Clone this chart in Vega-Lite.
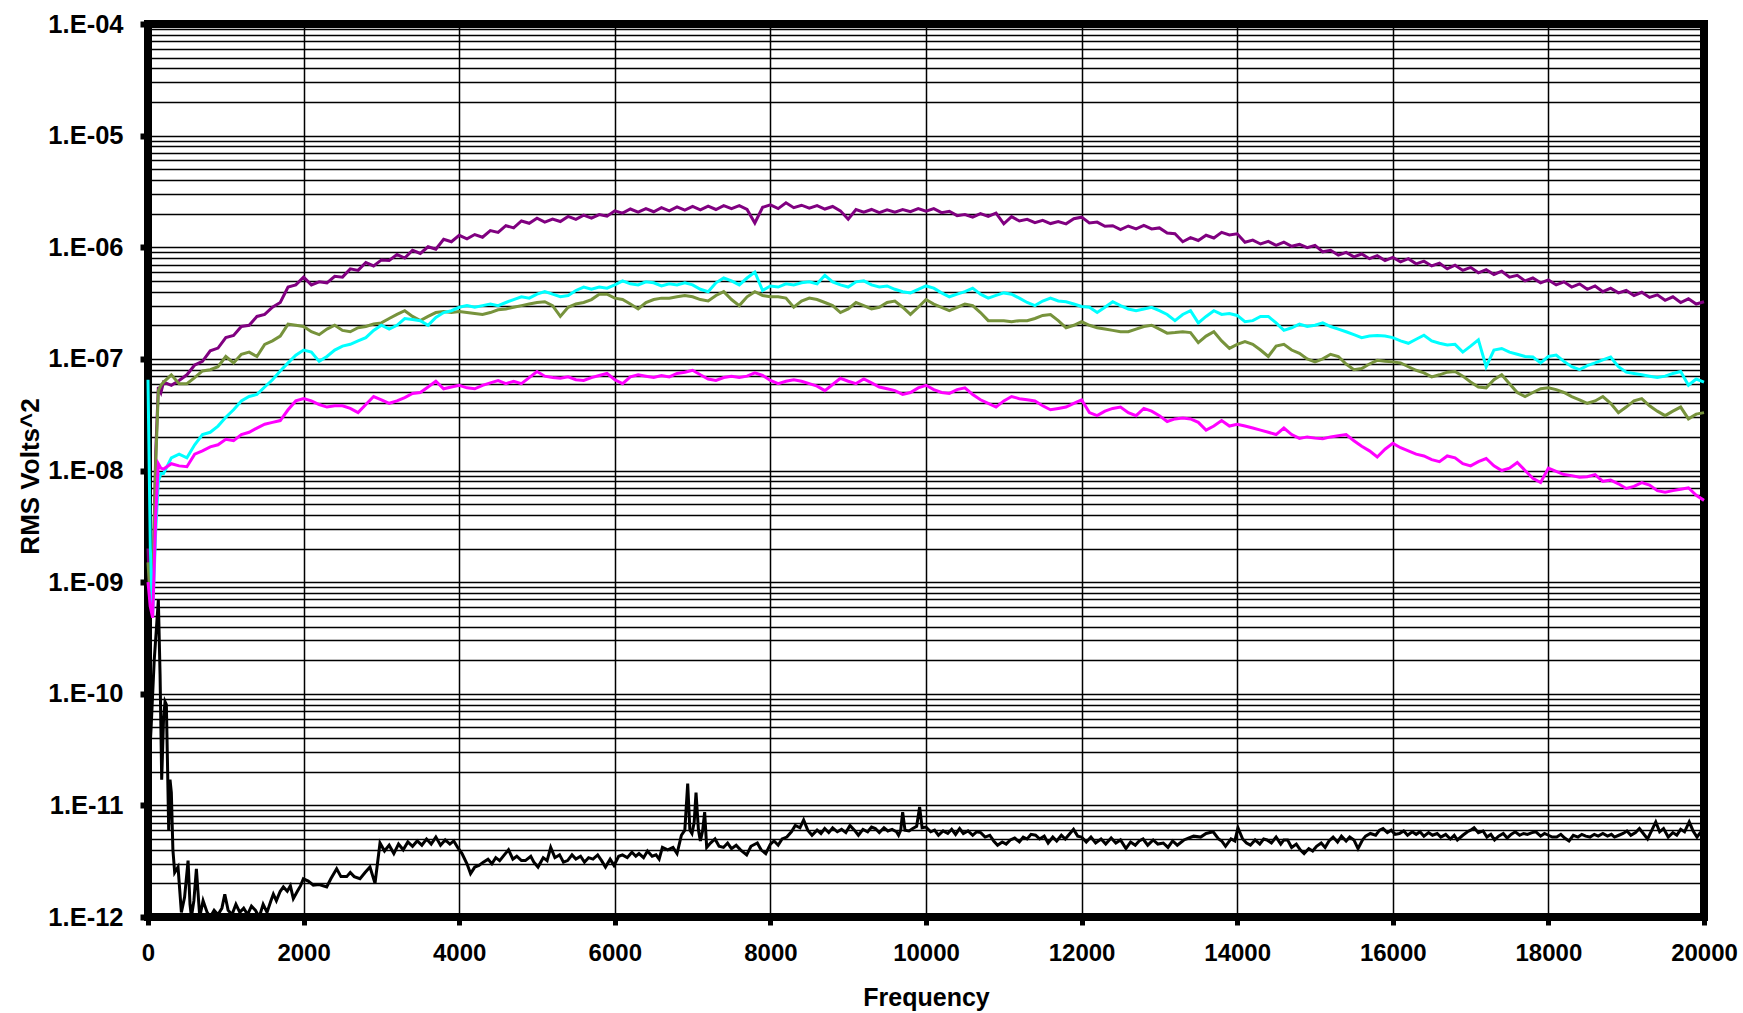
{
"$schema": "https://vega.github.io/schema/vega-lite/v6.json",
"autosize": {"type": "none"},
"width": 1556,
"height": 893,
"padding": {"left": 148, "top": 24, "right": 39, "bottom": 96},
"background": "white",
"config": {"view": {"stroke": "#000", "strokeWidth": 8}},
"datasets": {
"k": [
{"f":0,"v":1.5e-11},{"f":40,"v":5e-11},{"f":80,"v":2e-10},{"f":110,"v":4e-10},{"f":133,"v":6.9e-10},{"f":155,"v":1.5e-10},{"f":176,"v":1.7e-11},{"f":200,"v":6e-11},{"f":219,"v":8.5e-11},{"f":236,"v":8e-11},{"f":250,"v":2.5e-11},{"f":266,"v":6e-12},{"f":283,"v":1.7e-11},{"f":300,"v":1.3e-11},{"f":320,"v":4e-12},{"f":343,"v":2.5e-12},{"f":386,"v":2.8e-12},{"f":429,"v":1.1e-12},{"f":470,"v":1.5e-12},{"f":515,"v":3.2e-12},{"f":540,"v":1.3e-12},{"f":558,"v":1.0e-12},{"f":590,"v":1.4e-12},{"f":622,"v":2.7e-12},{"f":665,"v":1.0e-12},{"f":708,"v":1.4e-12},{"f":760,"v":1.1e-12},{"f":800,"v":1.0e-12},{"f":850,"v":1.15e-12},{"f":900,"v":1.05e-12},{"f":950,"v":1.2e-12},{"f":987,"v":1.6e-12},{"f":1030,"v":1.15e-12},{"f":1080,"v":1.05e-12},{"f":1130,"v":1.3e-12},{"f":1180,"v":1.1e-12},{"f":1230,"v":1.2e-12},{"f":1280,"v":1.05e-12},{"f":1330,"v":1.25e-12},{"f":1380,"v":1.15e-12},{"f":1430,"v":1.0e-12},{"f":1480,"v":1.3e-12},{"f":1530,"v":1.1e-12},{"f":1580,"v":1.4e-12},{"f":1611,"v":1.6e-12},{"f":1650,"v":1.4e-12},{"f":1700,"v":1.7e-12},{"f":1740,"v":1.86e-12},{"f":1790,"v":1.7e-12},{"f":1830,"v":1.9e-12},{"f":1868,"v":1.46e-12},{"f":1920,"v":1.7e-12},{"f":1960,"v":1.9e-12},{"f":1997,"v":2.2e-12},{"f":2060,"v":2.1e-12},{"f":2125,"v":1.93e-12},{"f":2200,"v":1.95e-12},{"f":2297,"v":1.86e-12},{"f":2350,"v":2.2e-12},{"f":2425,"v":2.7e-12},{"f":2480,"v":2.3e-12},{"f":2554,"v":2.3e-12},{"f":2600,"v":2.5e-12},{"f":2650,"v":2.3e-12},{"f":2725,"v":2.2e-12},{"f":2790,"v":2.5e-12},{"f":2853,"v":2.8e-12},{"f":2918,"v":2.0e-12},{"f":2982,"v":4.6e-12},{"f":3040,"v":3.9e-12},{"f":3100,"v":4.4e-12},{"f":3160,"v":3.7e-12},{"f":3220,"v":4.5e-12},{"f":3280,"v":4.0e-12},{"f":3340,"v":4.7e-12},{"f":3400,"v":4.3e-12},{"f":3460,"v":4.8e-12},{"f":3520,"v":4.4e-12},{"f":3580,"v":5.0e-12},{"f":3640,"v":4.5e-12},{"f":3700,"v":5.2e-12},{"f":3760,"v":4.4e-12},{"f":3820,"v":4.9e-12},{"f":3880,"v":4.5e-12},{"f":3930,"v":4.8e-12},{"f":3980,"v":4.2e-12},{"f":4036,"v":3.7e-12},{"f":4100,"v":3.0e-12},{"f":4146,"v":2.45e-12},{"f":4200,"v":2.8e-12},{"f":4254,"v":2.9e-12},{"f":4310,"v":3.1e-12},{"f":4370,"v":3.3e-12},{"f":4420,"v":3.0e-12},{"f":4470,"v":3.4e-12},{"f":4520,"v":3.2e-12},{"f":4580,"v":3.6e-12},{"f":4634,"v":4.0e-12},{"f":4690,"v":3.3e-12},{"f":4740,"v":3.5e-12},{"f":4800,"v":3.2e-12},{"f":4851,"v":3.2e-12},{"f":4920,"v":3.5e-12},{"f":4960,"v":3.1e-12},{"f":5013,"v":2.8e-12},{"f":5080,"v":3.4e-12},{"f":5130,"v":3.2e-12},{"f":5176,"v":4.2e-12},{"f":5230,"v":3.4e-12},{"f":5290,"v":3.6e-12},{"f":5340,"v":3.1e-12},{"f":5393,"v":3.2e-12},{"f":5450,"v":3.6e-12},{"f":5500,"v":3.3e-12},{"f":5560,"v":3.5e-12},{"f":5610,"v":3.1e-12},{"f":5663,"v":3.4e-12},{"f":5720,"v":3.3e-12},{"f":5780,"v":3.6e-12},{"f":5830,"v":3.2e-12},{"f":5880,"v":2.8e-12},{"f":5940,"v":3.3e-12},{"f":5990,"v":2.9e-12},{"f":6050,"v":3.5e-12},{"f":6098,"v":3.6e-12},{"f":6160,"v":3.4e-12},{"f":6220,"v":3.8e-12},{"f":6270,"v":3.5e-12},{"f":6311,"v":3.7e-12},{"f":6370,"v":3.4e-12},{"f":6420,"v":3.9e-12},{"f":6480,"v":3.5e-12},{"f":6530,"v":3.6e-12},{"f":6570,"v":3.3e-12},{"f":6612,"v":4.2e-12},{"f":6680,"v":4.0e-12},{"f":6748,"v":4.2e-12},{"f":6800,"v":3.7e-12},{"f":6856,"v":5.4e-12},{"f":6900,"v":6e-12},{"f":6937,"v":1.57e-11},{"f":6965,"v":6e-12},{"f":6992,"v":5.6e-12},{"f":7020,"v":7e-12},{"f":7044,"v":1.3e-11},{"f":7075,"v":6e-12},{"f":7100,"v":4.8e-12},{"f":7130,"v":6e-12},{"f":7155,"v":8.7e-12},{"f":7181,"v":4.2e-12},{"f":7230,"v":4.6e-12},{"f":7288,"v":5.0e-12},{"f":7340,"v":4.3e-12},{"f":7397,"v":4.2e-12},{"f":7450,"v":4.6e-12},{"f":7500,"v":4.1e-12},{"f":7560,"v":4.4e-12},{"f":7615,"v":4.0e-12},{"f":7695,"v":3.6e-12},{"f":7750,"v":4.3e-12},{"f":7832,"v":4.6e-12},{"f":7880,"v":4.0e-12},{"f":7940,"v":3.7e-12},{"f":8000,"v":4.5e-12},{"f":8047,"v":4.8e-12},{"f":8100,"v":4.4e-12},{"f":8150,"v":5.0e-12},{"f":8211,"v":5.2e-12},{"f":8270,"v":5.8e-12},{"f":8320,"v":6.6e-12},{"f":8380,"v":6.3e-12},{"f":8427,"v":7.4e-12},{"f":8480,"v":6.0e-12},{"f":8535,"v":5.4e-12},{"f":8600,"v":6.0e-12},{"f":8650,"v":5.6e-12},{"f":8698,"v":6.2e-12},{"f":8750,"v":5.7e-12},{"f":8800,"v":6.3e-12},{"f":8860,"v":5.8e-12},{"f":8915,"v":6.1e-12},{"f":8970,"v":5.7e-12},{"f":9023,"v":6.6e-12},{"f":9080,"v":6.0e-12},{"f":9131,"v":5.4e-12},{"f":9190,"v":6.1e-12},{"f":9250,"v":5.8e-12},{"f":9300,"v":6.4e-12},{"f":9349,"v":6.2e-12},{"f":9400,"v":5.7e-12},{"f":9460,"v":6.3e-12},{"f":9510,"v":5.9e-12},{"f":9564,"v":6.1e-12},{"f":9620,"v":5.8e-12},{"f":9647,"v":5.4e-12},{"f":9675,"v":6e-12},{"f":9700,"v":8.7e-12},{"f":9730,"v":6e-12},{"f":9782,"v":5.9e-12},{"f":9830,"v":6.2e-12},{"f":9880,"v":6.5e-12},{"f":9918,"v":9.7e-12},{"f":9950,"v":6.3e-12},{"f":10000,"v":6.4e-12},{"f":10060,"v":5.8e-12},{"f":10110,"v":6.0e-12},{"f":10160,"v":5.4e-12},{"f":10220,"v":5.9e-12},{"f":10280,"v":5.6e-12},{"f":10330,"v":6.1e-12},{"f":10380,"v":5.5e-12},{"f":10432,"v":6.2e-12},{"f":10480,"v":5.6e-12},{"f":10540,"v":5.9e-12},{"f":10600,"v":5.4e-12},{"f":10650,"v":5.8e-12},{"f":10703,"v":5.7e-12},{"f":10760,"v":5.2e-12},{"f":10820,"v":5.4e-12},{"f":10870,"v":4.8e-12},{"f":10920,"v":4.4e-12},{"f":10980,"v":4.7e-12},{"f":11030,"v":4.5e-12},{"f":11083,"v":4.9e-12},{"f":11140,"v":5.1e-12},{"f":11200,"v":4.7e-12},{"f":11250,"v":5.2e-12},{"f":11300,"v":5.0e-12},{"f":11350,"v":5.5e-12},{"f":11408,"v":5.4e-12},{"f":11460,"v":5.0e-12},{"f":11520,"v":5.3e-12},{"f":11570,"v":4.6e-12},{"f":11630,"v":5.2e-12},{"f":11680,"v":4.8e-12},{"f":11740,"v":5.4e-12},{"f":11790,"v":5.0e-12},{"f":11850,"v":5.6e-12},{"f":11896,"v":6.1e-12},{"f":11950,"v":5.3e-12},{"f":12000,"v":5.2e-12},{"f":12060,"v":4.7e-12},{"f":12120,"v":5.2e-12},{"f":12180,"v":4.6e-12},{"f":12250,"v":5.0e-12},{"f":12310,"v":4.5e-12},{"f":12380,"v":5.1e-12},{"f":12440,"v":4.6e-12},{"f":12500,"v":4.9e-12},{"f":12570,"v":4.1e-12},{"f":12630,"v":4.7e-12},{"f":12690,"v":4.4e-12},{"f":12740,"v":4.8e-12},{"f":12790,"v":5.0e-12},{"f":12850,"v":4.4e-12},{"f":12920,"v":4.9e-12},{"f":12980,"v":4.5e-12},{"f":13050,"v":4.6e-12},{"f":13110,"v":4.2e-12},{"f":13170,"v":4.8e-12},{"f":13230,"v":4.4e-12},{"f":13315,"v":4.9e-12},{"f":13380,"v":5.1e-12},{"f":13440,"v":5.3e-12},{"f":13530,"v":5.2e-12},{"f":13600,"v":5.6e-12},{"f":13690,"v":5.8e-12},{"f":13760,"v":5.0e-12},{"f":13800,"v":4.8e-12},{"f":13850,"v":4.3e-12},{"f":13920,"v":5.0e-12},{"f":13970,"v":4.8e-12},{"f":14010,"v":6.3e-12},{"f":14070,"v":5.0e-12},{"f":14120,"v":4.6e-12},{"f":14170,"v":4.4e-12},{"f":14230,"v":4.9e-12},{"f":14290,"v":4.5e-12},{"f":14340,"v":5.0e-12},{"f":14383,"v":4.9e-12},{"f":14440,"v":4.6e-12},{"f":14500,"v":5.2e-12},{"f":14560,"v":4.5e-12},{"f":14600,"v":4.9e-12},{"f":14648,"v":4.9e-12},{"f":14700,"v":4.2e-12},{"f":14760,"v":4.5e-12},{"f":14810,"v":4.0e-12},{"f":14860,"v":3.7e-12},{"f":14920,"v":4.1e-12},{"f":14970,"v":3.9e-12},{"f":15020,"v":4.3e-12},{"f":15080,"v":4.6e-12},{"f":15130,"v":4.2e-12},{"f":15180,"v":4.8e-12},{"f":15233,"v":5.2e-12},{"f":15290,"v":4.7e-12},{"f":15340,"v":5.3e-12},{"f":15400,"v":4.8e-12},{"f":15446,"v":5.2e-12},{"f":15500,"v":4.9e-12},{"f":15553,"v":4.1e-12},{"f":15610,"v":4.9e-12},{"f":15650,"v":5.3e-12},{"f":15712,"v":5.6e-12},{"f":15780,"v":5.4e-12},{"f":15830,"v":6.0e-12},{"f":15875,"v":6.2e-12},{"f":15930,"v":5.7e-12},{"f":15980,"v":6.0e-12},{"f":16030,"v":5.5e-12},{"f":16085,"v":5.6e-12},{"f":16140,"v":5.9e-12},{"f":16190,"v":5.4e-12},{"f":16250,"v":5.8e-12},{"f":16300,"v":5.5e-12},{"f":16350,"v":5.8e-12},{"f":16400,"v":5.3e-12},{"f":16460,"v":5.7e-12},{"f":16510,"v":5.4e-12},{"f":16570,"v":5.6e-12},{"f":16617,"v":5.2e-12},{"f":16680,"v":5.5e-12},{"f":16740,"v":5.0e-12},{"f":16790,"v":5.4e-12},{"f":16830,"v":4.9e-12},{"f":16900,"v":5.4e-12},{"f":16960,"v":5.8e-12},{"f":17000,"v":6.0e-12},{"f":17045,"v":6.3e-12},{"f":17100,"v":5.7e-12},{"f":17160,"v":5.9e-12},{"f":17210,"v":5.2e-12},{"f":17260,"v":5.5e-12},{"f":17308,"v":4.9e-12},{"f":17360,"v":5.3e-12},{"f":17420,"v":5.6e-12},{"f":17470,"v":5.1e-12},{"f":17520,"v":5.5e-12},{"f":17574,"v":5.8e-12},{"f":17630,"v":5.4e-12},{"f":17680,"v":5.6e-12},{"f":17730,"v":5.5e-12},{"f":17790,"v":5.7e-12},{"f":17840,"v":5.8e-12},{"f":17900,"v":5.3e-12},{"f":17950,"v":5.6e-12},{"f":18000,"v":5.4e-12},{"f":18050,"v":5.2e-12},{"f":18107,"v":5.2e-12},{"f":18160,"v":5.5e-12},{"f":18210,"v":5.1e-12},{"f":18265,"v":4.8e-12},{"f":18320,"v":5.4e-12},{"f":18380,"v":5.2e-12},{"f":18430,"v":5.5e-12},{"f":18480,"v":5.3e-12},{"f":18535,"v":5.2e-12},{"f":18590,"v":5.5e-12},{"f":18640,"v":5.3e-12},{"f":18700,"v":5.6e-12},{"f":18760,"v":5.3e-12},{"f":18810,"v":5.5e-12},{"f":18850,"v":5.2e-12},{"f":18905,"v":5.4e-12},{"f":18960,"v":5.6e-12},{"f":19010,"v":5.9e-12},{"f":19060,"v":5.4e-12},{"f":19120,"v":5.7e-12},{"f":19170,"v":6.2e-12},{"f":19220,"v":5.6e-12},{"f":19275,"v":5.0e-12},{"f":19330,"v":6.0e-12},{"f":19380,"v":7.1e-12},{"f":19430,"v":5.8e-12},{"f":19480,"v":6.2e-12},{"f":19540,"v":5.2e-12},{"f":19600,"v":5.7e-12},{"f":19650,"v":5.4e-12},{"f":19700,"v":6.1e-12},{"f":19750,"v":5.8e-12},{"f":19810,"v":7.1e-12},{"f":19860,"v":5.9e-12},{"f":19910,"v":5.2e-12},{"f":19960,"v":5.8e-12},{"f":20000,"v":6.4e-12}
],
"w": [
{"f":0,"p":0.02e-7,"o":0.015e-7,"c":0.65e-7,"m":0.1e-8},
{"f":30,"p":0.006e-7,"o":0.007e-7,"c":0.02e-7,"m":0.06e-8},
{"f":60,"p":0.008e-7,"o":0.009e-7,"c":0.005e-7,"m":0.048e-8},
{"f":100,"p":0.15e-7,"o":0.12e-7,"c":0.03e-7,"m":0.4e-8},
{"f":133,"p":0.56e-7,"o":0.52e-7,"c":0.08e-7,"m":1.15e-8},
{"f":166,"p":0.50e-7,"o":0.58e-7,"c":0.094e-7,"m":1.05e-8},
{"f":200,"p":0.62e-7,"o":0.62e-7,"c":0.094e-7,"m":1.03e-8},
{"f":300,"p":0.58e-7,"o":0.72e-7,"c":0.13e-7,"m":1.15e-8},
{"f":400,"p":0.64e-7,"o":0.60e-7,"c":0.14e-7,"m":1.1e-8},
{"f":500,"p":0.72e-7,"o":0.60e-7,"c":0.13e-7,"m":1.08e-8},
{"f":600,"p":0.88e-7,"o":0.68e-7,"c":0.17e-7,"m":1.4e-8},
{"f":700,"p":0.95e-7,"o":0.78e-7,"c":0.21e-7,"m":1.5e-8},
{"f":800,"p":1.18e-7,"o":0.80e-7,"c":0.22e-7,"m":1.63e-8},
{"f":900,"p":1.25e-7,"o":0.85e-7,"c":0.25e-7,"m":1.7e-8},
{"f":1000,"p":1.55e-7,"o":1.05e-7,"c":0.30e-7,"m":1.9e-8},
{"f":1100,"p":1.62e-7,"o":0.92e-7,"c":0.35e-7,"m":1.85e-8},
{"f":1200,"p":1.95e-7,"o":1.1e-7,"c":0.42e-7,"m":2.1e-8},
{"f":1300,"p":2.0e-7,"o":1.15e-7,"c":0.46e-7,"m":2.2e-8},
{"f":1400,"p":2.4e-7,"o":1.05e-7,"c":0.48e-7,"m":2.4e-8},
{"f":1500,"p":2.5e-7,"o":1.35e-7,"c":0.56e-7,"m":2.6e-8},
{"f":1600,"p":2.9e-7,"o":1.45e-7,"c":0.65e-7,"m":2.7e-8},
{"f":1700,"p":3.2e-7,"o":1.6e-7,"c":0.78e-7,"m":2.8e-8},
{"f":1800,"p":4.4e-7,"o":2.05e-7,"c":0.92e-7,"m":3.5e-8},
{"f":1900,"p":4.6e-7,"o":2.0e-7,"c":1.08e-7,"m":4.2e-8},
{"f":2000,"p":5.4e-7,"o":1.95e-7,"c":1.2e-7,"m":4.4e-8},
{"f":2100,"p":4.6e-7,"o":1.75e-7,"c":1.15e-7,"m":4.2e-8},
{"f":2200,"p":4.9e-7,"o":1.65e-7,"c":0.95e-7,"m":3.9e-8},
{"f":2300,"p":4.8e-7,"o":1.85e-7,"c":1.05e-7,"m":3.7e-8},
{"f":2400,"p":5.5e-7,"o":2.0e-7,"c":1.2e-7,"m":3.8e-8},
{"f":2500,"p":5.4e-7,"o":1.8e-7,"c":1.3e-7,"m":3.8e-8},
{"f":2600,"p":6.4e-7,"o":1.75e-7,"c":1.35e-7,"m":3.6e-8},
{"f":2700,"p":6.2e-7,"o":1.9e-7,"c":1.45e-7,"m":3.3e-8},
{"f":2800,"p":7.3e-7,"o":1.95e-7,"c":1.55e-7,"m":3.9e-8},
{"f":2900,"p":6.8e-7,"o":2.05e-7,"c":1.8e-7,"m":4.6e-8},
{"f":3000,"p":7.7e-7,"o":2.1e-7,"c":2.0e-7,"m":4.3e-8},
{"f":3100,"p":7.6e-7,"o":2.3e-7,"c":1.85e-7,"m":4.0e-8},
{"f":3200,"p":8.6e-7,"o":2.5e-7,"c":2.0e-7,"m":4.2e-8},
{"f":3300,"p":8.0e-7,"o":2.7e-7,"c":2.3e-7,"m":4.5e-8},
{"f":3400,"p":9.4e-7,"o":2.4e-7,"c":2.25e-7,"m":4.9e-8},
{"f":3500,"p":8.8e-7,"o":2.2e-7,"c":2.2e-7,"m":5.0e-8},
{"f":3600,"p":10.1e-7,"o":2.4e-7,"c":2.0e-7,"m":5.6e-8},
{"f":3700,"p":9.6e-7,"o":2.6e-7,"c":2.35e-7,"m":6.3e-8},
{"f":3800,"p":11.8e-7,"o":2.65e-7,"c":2.6e-7,"m":5.4e-8},
{"f":3900,"p":11.2e-7,"o":2.6e-7,"c":2.7e-7,"m":5.6e-8},
{"f":4000,"p":12.8e-7,"o":2.65e-7,"c":2.9e-7,"m":5.8e-8},
{"f":4100,"p":11.9e-7,"o":2.6e-7,"c":3.0e-7,"m":5.5e-8},
{"f":4200,"p":13.0e-7,"o":2.55e-7,"c":2.9e-7,"m":5.4e-8},
{"f":4300,"p":12.3e-7,"o":2.5e-7,"c":3.0e-7,"m":5.8e-8},
{"f":4400,"p":14.1e-7,"o":2.6e-7,"c":3.1e-7,"m":6.1e-8},
{"f":4500,"p":13.6e-7,"o":2.75e-7,"c":3.0e-7,"m":6.4e-8},
{"f":4600,"p":15.6e-7,"o":2.8e-7,"c":3.2e-7,"m":6.0e-8},
{"f":4700,"p":14.9e-7,"o":2.9e-7,"c":3.4e-7,"m":6.3e-8},
{"f":4800,"p":17.2e-7,"o":3.0e-7,"c":3.6e-7,"m":6.0e-8},
{"f":4900,"p":16.4e-7,"o":3.1e-7,"c":3.5e-7,"m":6.8e-8},
{"f":5000,"p":18.2e-7,"o":3.2e-7,"c":3.8e-7,"m":7.7e-8},
{"f":5100,"p":16.8e-7,"o":3.25e-7,"c":4.0e-7,"m":7.0e-8},
{"f":5200,"p":17.9e-7,"o":3.0e-7,"c":3.8e-7,"m":6.8e-8},
{"f":5300,"p":17.0e-7,"o":2.4e-7,"c":3.6e-7,"m":6.7e-8},
{"f":5400,"p":18.9e-7,"o":2.9e-7,"c":3.7e-7,"m":6.9e-8},
{"f":5500,"p":17.8e-7,"o":3.1e-7,"c":4.1e-7,"m":6.5e-8},
{"f":5600,"p":19.4e-7,"o":3.2e-7,"c":4.4e-7,"m":6.4e-8},
{"f":5700,"p":18.2e-7,"o":3.4e-7,"c":4.2e-7,"m":6.8e-8},
{"f":5800,"p":19.6e-7,"o":3.8e-7,"c":4.4e-7,"m":7.1e-8},
{"f":5900,"p":19.0e-7,"o":3.8e-7,"c":4.3e-7,"m":7.4e-8},
{"f":6000,"p":21.2e-7,"o":3.5e-7,"c":4.6e-7,"m":6.5e-8},
{"f":6100,"p":20.2e-7,"o":3.4e-7,"c":5.0e-7,"m":6.0e-8},
{"f":6200,"p":22.0e-7,"o":3.1e-7,"c":4.7e-7,"m":6.9e-8},
{"f":6300,"p":20.6e-7,"o":2.8e-7,"c":4.6e-7,"m":7.2e-8},
{"f":6400,"p":22.2e-7,"o":3.2e-7,"c":4.9e-7,"m":7.0e-8},
{"f":6500,"p":20.8e-7,"o":3.4e-7,"c":4.8e-7,"m":6.8e-8},
{"f":6600,"p":22.6e-7,"o":3.5e-7,"c":4.5e-7,"m":7.1e-8},
{"f":6700,"p":21.2e-7,"o":3.5e-7,"c":4.7e-7,"m":6.9e-8},
{"f":6800,"p":23.0e-7,"o":3.6e-7,"c":4.6e-7,"m":7.4e-8},
{"f":6900,"p":21.5e-7,"o":3.7e-7,"c":4.8e-7,"m":7.6e-8},
{"f":7000,"p":23.2e-7,"o":3.6e-7,"c":4.6e-7,"m":7.9e-8},
{"f":7100,"p":21.6e-7,"o":3.4e-7,"c":4.2e-7,"m":7.2e-8},
{"f":7200,"p":23.4e-7,"o":3.3e-7,"c":4.0e-7,"m":6.6e-8},
{"f":7300,"p":21.8e-7,"o":3.7e-7,"c":4.8e-7,"m":6.4e-8},
{"f":7400,"p":23.6e-7,"o":4.0e-7,"c":5.3e-7,"m":6.8e-8},
{"f":7500,"p":22.2e-7,"o":3.4e-7,"c":5.0e-7,"m":7.0e-8},
{"f":7600,"p":23.6e-7,"o":3.0e-7,"c":4.6e-7,"m":6.8e-8},
{"f":7700,"p":21.8e-7,"o":3.6e-7,"c":5.3e-7,"m":7.0e-8},
{"f":7800,"p":16.5e-7,"o":4.0e-7,"c":6.0e-7,"m":7.5e-8},
{"f":7900,"p":22.8e-7,"o":3.7e-7,"c":4.1e-7,"m":7.1e-8},
{"f":8000,"p":24.0e-7,"o":3.6e-7,"c":4.5e-7,"m":6.4e-8},
{"f":8100,"p":22.2e-7,"o":3.6e-7,"c":4.4e-7,"m":6.0e-8},
{"f":8200,"p":25.0e-7,"o":3.5e-7,"c":4.7e-7,"m":6.3e-8},
{"f":8300,"p":22.6e-7,"o":2.9e-7,"c":4.6e-7,"m":6.5e-8},
{"f":8400,"p":23.8e-7,"o":3.3e-7,"c":4.8e-7,"m":6.3e-8},
{"f":8500,"p":22.4e-7,"o":3.5e-7,"c":4.9e-7,"m":6.0e-8},
{"f":8600,"p":23.6e-7,"o":3.4e-7,"c":4.7e-7,"m":5.7e-8},
{"f":8700,"p":22.0e-7,"o":3.2e-7,"c":5.6e-7,"m":5.2e-8},
{"f":8800,"p":23.2e-7,"o":3.0e-7,"c":4.9e-7,"m":5.9e-8},
{"f":8900,"p":21.2e-7,"o":2.6e-7,"c":4.6e-7,"m":6.7e-8},
{"f":9000,"p":17.8e-7,"o":2.8e-7,"c":4.4e-7,"m":6.3e-8},
{"f":9100,"p":21.8e-7,"o":3.2e-7,"c":4.9e-7,"m":6.0e-8},
{"f":9200,"p":20.6e-7,"o":3.0e-7,"c":5.0e-7,"m":6.6e-8},
{"f":9300,"p":21.8e-7,"o":2.8e-7,"c":4.6e-7,"m":6.1e-8},
{"f":9400,"p":20.4e-7,"o":2.9e-7,"c":4.4e-7,"m":5.6e-8},
{"f":9500,"p":21.6e-7,"o":3.2e-7,"c":4.5e-7,"m":5.4e-8},
{"f":9600,"p":20.6e-7,"o":3.3e-7,"c":4.2e-7,"m":5.2e-8},
{"f":9700,"p":21.8e-7,"o":2.9e-7,"c":4.0e-7,"m":4.8e-8},
{"f":9800,"p":20.8e-7,"o":2.5e-7,"c":3.9e-7,"m":5.0e-8},
{"f":9900,"p":22.2e-7,"o":2.9e-7,"c":4.2e-7,"m":5.5e-8},
{"f":10000,"p":21.0e-7,"o":3.4e-7,"c":4.5e-7,"m":5.8e-8},
{"f":10100,"p":22.2e-7,"o":3.1e-7,"c":4.3e-7,"m":5.3e-8},
{"f":10200,"p":20.4e-7,"o":2.9e-7,"c":3.9e-7,"m":5.0e-8},
{"f":10300,"p":21.0e-7,"o":2.7e-7,"c":3.6e-7,"m":4.9e-8},
{"f":10400,"p":19.2e-7,"o":2.9e-7,"c":3.8e-7,"m":5.3e-8},
{"f":10500,"p":19.6e-7,"o":3.1e-7,"c":4.0e-7,"m":5.5e-8},
{"f":10600,"p":18.6e-7,"o":3.0e-7,"c":4.3e-7,"m":4.8e-8},
{"f":10700,"p":20.0e-7,"o":2.6e-7,"c":3.8e-7,"m":4.3e-8},
{"f":10800,"p":18.9e-7,"o":2.2e-7,"c":3.5e-7,"m":4.0e-8},
{"f":10900,"p":20.2e-7,"o":2.2e-7,"c":3.7e-7,"m":3.7e-8},
{"f":11000,"p":16.2e-7,"o":2.2e-7,"c":3.9e-7,"m":4.2e-8},
{"f":11100,"p":18.8e-7,"o":2.15e-7,"c":3.8e-7,"m":4.6e-8},
{"f":11200,"p":17.2e-7,"o":2.2e-7,"c":3.5e-7,"m":4.4e-8},
{"f":11300,"p":17.8e-7,"o":2.2e-7,"c":3.2e-7,"m":4.3e-8},
{"f":11400,"p":16.6e-7,"o":2.3e-7,"c":3.0e-7,"m":4.2e-8},
{"f":11500,"p":17.4e-7,"o":2.45e-7,"c":3.3e-7,"m":3.8e-8},
{"f":11600,"p":16.3e-7,"o":2.5e-7,"c":3.5e-7,"m":3.5e-8},
{"f":11700,"p":17.0e-7,"o":2.2e-7,"c":3.3e-7,"m":3.6e-8},
{"f":11800,"p":16.2e-7,"o":1.9e-7,"c":3.25e-7,"m":3.7e-8},
{"f":11900,"p":18.0e-7,"o":2.0e-7,"c":3.1e-7,"m":4.0e-8},
{"f":12000,"p":18.6e-7,"o":2.15e-7,"c":2.95e-7,"m":4.3e-8},
{"f":12100,"p":16.5e-7,"o":2.0e-7,"c":2.9e-7,"m":3.3e-8},
{"f":12200,"p":16.8e-7,"o":1.9e-7,"c":2.6e-7,"m":3.1e-8},
{"f":12300,"p":15.4e-7,"o":1.85e-7,"c":2.9e-7,"m":3.4e-8},
{"f":12400,"p":15.6e-7,"o":1.8e-7,"c":3.25e-7,"m":3.6e-8},
{"f":12500,"p":14.4e-7,"o":1.75e-7,"c":3.0e-7,"m":3.7e-8},
{"f":12600,"p":15.5e-7,"o":1.75e-7,"c":2.8e-7,"m":3.3e-8},
{"f":12700,"p":14.6e-7,"o":1.85e-7,"c":2.7e-7,"m":3.1e-8},
{"f":12800,"p":15.7e-7,"o":1.95e-7,"c":2.8e-7,"m":3.6e-8},
{"f":12900,"p":14.6e-7,"o":2.0e-7,"c":2.9e-7,"m":3.4e-8},
{"f":13000,"p":14.9e-7,"o":1.85e-7,"c":2.7e-7,"m":3.1e-8},
{"f":13100,"p":13.4e-7,"o":1.7e-7,"c":2.5e-7,"m":2.75e-8},
{"f":13200,"p":13.2e-7,"o":1.72e-7,"c":2.2e-7,"m":2.9e-8},
{"f":13300,"p":11.2e-7,"o":1.75e-7,"c":2.5e-7,"m":2.95e-8},
{"f":13400,"p":12.2e-7,"o":1.72e-7,"c":2.7e-7,"m":2.9e-8},
{"f":13500,"p":11.5e-7,"o":1.4e-7,"c":2.1e-7,"m":2.7e-8},
{"f":13600,"p":12.8e-7,"o":1.6e-7,"c":2.4e-7,"m":2.3e-8},
{"f":13700,"p":12.1e-7,"o":1.75e-7,"c":2.7e-7,"m":2.5e-8},
{"f":13800,"p":13.6e-7,"o":1.45e-7,"c":2.5e-7,"m":2.8e-8},
{"f":13900,"p":12.9e-7,"o":1.24e-7,"c":2.55e-7,"m":2.5e-8},
{"f":14000,"p":13.2e-7,"o":1.35e-7,"c":2.45e-7,"m":2.6e-8},
{"f":14100,"p":11.1e-7,"o":1.43e-7,"c":2.15e-7,"m":2.5e-8},
{"f":14200,"p":11.6e-7,"o":1.35e-7,"c":2.2e-7,"m":2.4e-8},
{"f":14300,"p":10.7e-7,"o":1.2e-7,"c":2.4e-7,"m":2.3e-8},
{"f":14400,"p":11.3e-7,"o":1.05e-7,"c":2.4e-7,"m":2.2e-8},
{"f":14500,"p":10.4e-7,"o":1.3e-7,"c":2.1e-7,"m":2.1e-8},
{"f":14600,"p":11.1e-7,"o":1.35e-7,"c":1.8e-7,"m":2.4e-8},
{"f":14700,"p":10.2e-7,"o":1.2e-7,"c":1.9e-7,"m":2.1e-8},
{"f":14800,"p":10.6e-7,"o":1.12e-7,"c":2.05e-7,"m":1.94e-8},
{"f":14900,"p":9.9e-7,"o":1.0e-7,"c":1.95e-7,"m":2.0e-8},
{"f":15000,"p":10.4e-7,"o":0.94e-7,"c":2.0e-7,"m":1.95e-8},
{"f":15100,"p":9.1e-7,"o":1.0e-7,"c":2.1e-7,"m":1.93e-8},
{"f":15200,"p":9.4e-7,"o":1.1e-7,"c":1.95e-7,"m":2.0e-8},
{"f":15300,"p":8.5e-7,"o":1.05e-7,"c":1.85e-7,"m":2.05e-8},
{"f":15400,"p":9.0e-7,"o":0.9e-7,"c":1.75e-7,"m":2.1e-8},
{"f":15500,"p":8.2e-7,"o":0.8e-7,"c":1.65e-7,"m":1.85e-8},
{"f":15600,"p":8.7e-7,"o":0.82e-7,"c":1.55e-7,"m":1.65e-8},
{"f":15700,"p":7.9e-7,"o":0.9e-7,"c":1.6e-7,"m":1.5e-8},
{"f":15800,"p":8.4e-7,"o":0.97e-7,"c":1.62e-7,"m":1.32e-8},
{"f":15900,"p":7.6e-7,"o":0.95e-7,"c":1.6e-7,"m":1.55e-8},
{"f":16000,"p":8.1e-7,"o":0.94e-7,"c":1.55e-7,"m":1.75e-8},
{"f":16100,"p":7.4e-7,"o":0.92e-7,"c":1.45e-7,"m":1.6e-8},
{"f":16200,"p":7.9e-7,"o":0.85e-7,"c":1.38e-7,"m":1.5e-8},
{"f":16300,"p":7.1e-7,"o":0.79e-7,"c":1.5e-7,"m":1.4e-8},
{"f":16400,"p":7.5e-7,"o":0.75e-7,"c":1.63e-7,"m":1.35e-8},
{"f":16500,"p":6.8e-7,"o":0.69e-7,"c":1.45e-7,"m":1.25e-8},
{"f":16600,"p":7.2e-7,"o":0.72e-7,"c":1.38e-7,"m":1.2e-8},
{"f":16700,"p":6.4e-7,"o":0.76e-7,"c":1.33e-7,"m":1.35e-8},
{"f":16800,"p":6.9e-7,"o":0.77e-7,"c":1.35e-7,"m":1.3e-8},
{"f":16900,"p":6.2e-7,"o":0.7e-7,"c":1.15e-7,"m":1.15e-8},
{"f":17000,"p":6.6e-7,"o":0.62e-7,"c":1.3e-7,"m":1.1e-8},
{"f":17100,"p":5.9e-7,"o":0.56e-7,"c":1.48e-7,"m":1.2e-8},
{"f":17200,"p":6.3e-7,"o":0.55e-7,"c":0.85e-7,"m":1.28e-8},
{"f":17300,"p":5.7e-7,"o":0.65e-7,"c":1.2e-7,"m":1.1e-8},
{"f":17400,"p":6.1e-7,"o":0.72e-7,"c":1.24e-7,"m":1.0e-8},
{"f":17500,"p":5.4e-7,"o":0.6e-7,"c":1.15e-7,"m":1.05e-8},
{"f":17600,"p":5.6e-7,"o":0.5e-7,"c":1.1e-7,"m":1.18e-8},
{"f":17700,"p":5.0e-7,"o":0.46e-7,"c":1.05e-7,"m":1.0e-8},
{"f":17800,"p":5.3e-7,"o":0.5e-7,"c":1.04e-7,"m":0.85e-8},
{"f":17900,"p":4.8e-7,"o":0.54e-7,"c":0.92e-7,"m":0.78e-8},
{"f":18000,"p":5.1e-7,"o":0.55e-7,"c":1.05e-7,"m":1.05e-8},
{"f":18100,"p":4.6e-7,"o":0.53e-7,"c":1.08e-7,"m":0.98e-8},
{"f":18200,"p":4.9e-7,"o":0.5e-7,"c":0.95e-7,"m":0.92e-8},
{"f":18300,"p":4.4e-7,"o":0.46e-7,"c":0.85e-7,"m":0.9e-8},
{"f":18400,"p":4.7e-7,"o":0.43e-7,"c":0.8e-7,"m":0.87e-8},
{"f":18500,"p":4.2e-7,"o":0.4e-7,"c":0.87e-7,"m":0.88e-8},
{"f":18600,"p":4.5e-7,"o":0.42e-7,"c":0.92e-7,"m":0.92e-8},
{"f":18700,"p":4.0e-7,"o":0.46e-7,"c":0.98e-7,"m":0.8e-8},
{"f":18800,"p":4.3e-7,"o":0.4e-7,"c":1.04e-7,"m":0.82e-8},
{"f":18900,"p":3.9e-7,"o":0.33e-7,"c":0.85e-7,"m":0.76e-8},
{"f":19000,"p":4.1e-7,"o":0.37e-7,"c":0.76e-7,"m":0.69e-8},
{"f":19100,"p":3.7e-7,"o":0.42e-7,"c":0.74e-7,"m":0.72e-8},
{"f":19200,"p":3.95e-7,"o":0.44e-7,"c":0.72e-7,"m":0.78e-8},
{"f":19300,"p":3.55e-7,"o":0.38e-7,"c":0.7e-7,"m":0.74e-8},
{"f":19400,"p":3.75e-7,"o":0.34e-7,"c":0.68e-7,"m":0.66e-8},
{"f":19500,"p":3.35e-7,"o":0.31e-7,"c":0.7e-7,"m":0.64e-8},
{"f":19600,"p":3.6e-7,"o":0.34e-7,"c":0.74e-7,"m":0.66e-8},
{"f":19700,"p":3.2e-7,"o":0.37e-7,"c":0.77e-7,"m":0.68e-8},
{"f":19800,"p":3.45e-7,"o":0.29e-7,"c":0.58e-7,"m":0.7e-8},
{"f":19900,"p":3.1e-7,"o":0.32e-7,"c":0.66e-7,"m":0.6e-8},
{"f":20000,"p":3.25e-7,"o":0.33e-7,"c":0.62e-7,"m":0.54e-8}
]
},
"encoding": {
"x": {"field": "f", "type": "quantitative",
 "scale": {"domain": [0, 20000], "nice": false, "zero": false},
 "axis": {"values": [0,2000,4000,6000,8000,10000,12000,14000,16000,18000,20000], "format": "d",
  "title": "Frequency", "grid": true, "gridColor": "#000", "gridWidth": 1.5, "gridOpacity": 1,
  "domain": false, "ticks": true, "tickColor": "#000", "tickWidth": 5, "tickSize": 8,
  "labelFont": "Liberation Sans", "labelFontWeight": "bold", "labelFontSize": 24, "labelColor": "#000",
  "labelPadding": 16, "labelFlush": false, "labelOverlap": false,
  "titleFont": "Liberation Sans", "titleFontSize": 25, "titleFontWeight": "bold", "titleColor": "#000",
  "titleX": 778, "titleY": 88, "titleBaseline": "alphabetic", "titleAlign": "center"}},
"y": {"field": "v", "type": "quantitative",
 "scale": {"type": "log", "domain": [1e-12, 1e-4], "nice": false, "clamp": true},
 "axis": {"values": [1e-12,2e-12,3e-12,4e-12,5e-12,6e-12,7e-12,8e-12,9e-12,1e-11,2e-11,3e-11,4e-11,5e-11,6e-11,7e-11,8e-11,9e-11,1e-10,2e-10,3e-10,4e-10,5e-10,6e-10,7e-10,8e-10,9e-10,1e-9,2e-9,3e-9,4e-9,5e-9,6e-9,7e-9,8e-9,9e-9,1e-8,2e-8,3e-8,4e-8,5e-8,6e-8,7e-8,8e-8,9e-8,1e-7,2e-7,3e-7,4e-7,5e-7,6e-7,7e-7,8e-7,9e-7,1e-6,2e-6,3e-6,4e-6,5e-6,6e-6,7e-6,8e-6,9e-6,1e-5,2e-5,3e-5,4e-5,5e-5,6e-5,7e-5,8e-5,9e-5,1e-4],
  "labelExpr": "abs(log(datum.value)/LN10 - round(log(datum.value)/LN10)) < 0.01 ? '1.E-' + (round(-log(datum.value)/LN10) < 10 ? '0' : '') + round(-log(datum.value)/LN10) : ''",
  "title": "RMS Volts^2", "grid": true, "gridColor": "#000", "gridWidth": 1.5, "gridOpacity": 1,
  "domain": false, "ticks": true, "tickColor": "#000", "tickWidth": 6, "tickSize": 8,
  "tickOpacity": {"condition": {"test": "abs(log(datum.value)/LN10 - round(log(datum.value)/LN10)) < 0.01", "value": 1}, "value": 0},
  "labelFont": "Liberation Sans", "labelFontWeight": "bold", "labelFontSize": 25.5, "labelColor": "#000",
  "labelPadding": 17, "labelOverlap": false, "labelFlush": false,
  "titleFont": "Liberation Sans", "titleFontSize": 26, "titleFontWeight": "bold", "titleColor": "#000",
  "titleX": -110, "titleY": 452, "titleAngle": -90, "titleBaseline": "alphabetic", "titleAlign": "center"}}
},
"layer": [
 {"data": {"name": "k"}, "mark": {"type": "line", "color": "#000", "strokeWidth": 3}},
 {"data": {"name": "w"},
  "transform": [{"fold": ["p", "o", "c", "m"], "as": ["s", "v"]}],
  "mark": {"type": "line", "strokeWidth": 3},
  "encoding": {"color": {"field": "s", "type": "nominal",
    "scale": {"domain": ["p", "o", "c", "m"], "range": ["#800080", "#77933C", "#00FFFF", "#FF00FF"]},
    "legend": null}}}
]
}
